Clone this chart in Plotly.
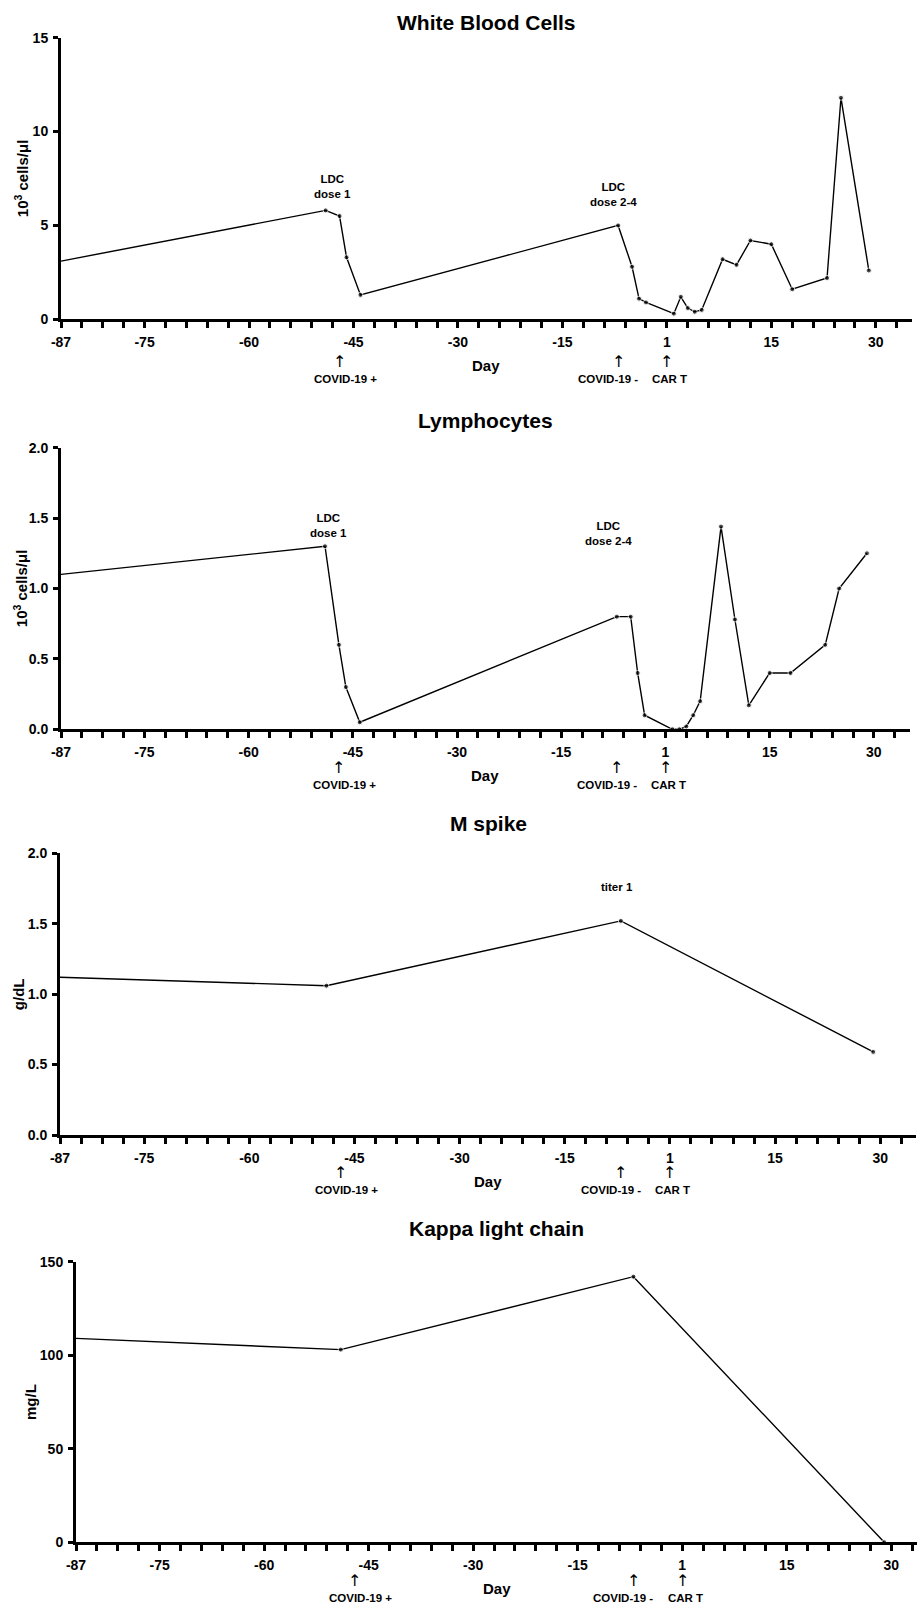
import plotly.graph_objects as go

W, H = 917, 1607

# ---------------- data ----------------
wbc_days = [-87, -49, -47, -46, -44, -7, -5, -4, -3, 1, 2, 3, 4, 5, 8, 10, 12, 15, 18, 23, 25, 29]
wbc_vals = [3.1, 5.8, 5.5, 3.3, 1.3, 5.0, 2.8, 1.1, 0.9, 0.3, 1.2, 0.6, 0.4, 0.5, 3.2, 2.9, 4.2, 4.0, 1.6, 2.2, 11.8, 2.6]

lym_days = [-87, -49, -47, -46, -44, -7, -5, -4, -3, 1, 2, 3, 4, 5, 8, 10, 12, 15, 18, 23, 25, 29]
lym_vals = [1.10, 1.30, 0.60, 0.30, 0.05, 0.80, 0.80, 0.40, 0.10, 0.0, 0.0, 0.02, 0.10, 0.20, 1.44, 0.78, 0.17, 0.40, 0.40, 0.60, 1.00, 1.25]

mspike_days = [-87, -49, -7, 29]
mspike_vals = [1.12, 1.06, 1.52, 0.59]

kappa_days = [-87, -49, -7, 29]
kappa_vals = [109, 103, 142, 0]

x_tickvals = [-87, -75, -60, -45, -30, -15, 0, 15, 30]
x_ticktext = ["-87", "-75", "-60", "-45", "-30", "-15", "1", "15", "30"]

event_names = ["COVID-19 +", "COVID-19 -", "CAR T"]
event_days = [-47, -7, 0]
event_label_shift = [6, -10, 3]

FONT = "Liberation Sans, Arial, sans-serif"

panels = [
    dict(title="White Blood Cells", ytitle="10<sup>3</sup> cells/μl",
         days=wbc_days, vals=wbc_vals,
         xpx=(61, 912), ypx=(37.7, 319.3), xrange=[-87, 35.2], yrange=[0, 15],
         ytickvals=[0, 5, 10, 15], yticktext=["0", "5", "10", "15"],
         title_y=23, ytitle_x=21.7, day_y=365, arrow_y=361, label_y=379,
         notes=[("LDC<br>dose 1", -48, 7.1), ("LDC<br>dose 2-4", -7.7, 6.67)]),
    dict(title="Lymphocytes", ytitle="10<sup>3</sup> cells/μl",
         days=lym_days, vals=lym_vals,
         xpx=(61, 910), ypx=(447.7, 729.3), xrange=[-87, 35.2], yrange=[0, 2.0],
         ytickvals=[0, 0.5, 1.0, 1.5, 2.0], yticktext=["0.0", "0.5", "1.0", "1.5", "2.0"],
         title_y=420, ytitle_x=20.7, day_y=775, arrow_y=767.5, label_y=785,
         notes=[("LDC<br>dose 1", -48.5, 1.45), ("LDC<br>dose 2-4", -8.2, 1.39)]),
    dict(title="M spike", ytitle="g/dL",
         days=mspike_days, vals=mspike_vals,
         xpx=(60, 916), ypx=(853.3, 1135), xrange=[-87, 35.1], yrange=[0, 2.0],
         ytickvals=[0, 0.5, 1.0, 1.5, 2.0], yticktext=["0.0", "0.5", "1.0", "1.5", "2.0"],
         title_y=823, ytitle_x=18, day_y=1181, arrow_y=1172.5, label_y=1190,
         notes=[("titer 1", -7.5, 1.76)]),
    dict(title="Kappa light chain", ytitle="mg/L",
         days=kappa_days, vals=kappa_vals,
         xpx=(76, 917), ypx=(1261.7, 1542.3), xrange=[-87, 33.7], yrange=[0, 150],
         ytickvals=[0, 50, 100, 150], yticktext=["0", "50", "100", "150"],
         title_y=1228, ytitle_x=30, day_y=1588, arrow_y=1580.5, label_y=1598,
         notes=[("titer 1", -7.8, 157.5)]),
]

fig = go.Figure()
annotations = []
layout_axes = {}

def px_x(p):
    return p / W

def px_y(p):
    return 1 - p / H

for i, p in enumerate(panels, start=1):
    sfx = "" if i == 1 else str(i)
    xa, ya = "x" + sfx, "y" + sfx
    sizes = [0] + [5] * (len(p["days"]) - 1)
    fig.add_trace(go.Scatter(
        x=p["days"], y=p["vals"], mode="lines+markers",
        line=dict(color="black", width=1.4),
        marker=dict(color="black", size=sizes),
        xaxis=xa, yaxis=ya, showlegend=False, cliponaxis=False,
    ))
    xd = [max(0, px_x(p["xpx"][0])), min(1, px_x(p["xpx"][1]))]
    yd = [px_y(p["ypx"][1]), px_y(p["ypx"][0])]
    layout_axes["xaxis" + sfx] = dict(
        domain=xd, range=p["xrange"], anchor=ya, automargin=False,
        showline=True, linecolor="black", linewidth=3,
        showgrid=False, zeroline=False,
        tickmode="array", tickvals=x_tickvals, ticktext=x_ticktext,
        ticks="outside", ticklen=6, tickwidth=3, tickcolor="black",
        ticklabelstandoff=2,
        tickfont=dict(family=FONT, size=14, color="black", weight="bold"),
        minor=dict(dtick=3, tick0=0, ticks="outside", ticklen=6, tickwidth=3,
                   tickcolor="black", showgrid=False),
        fixedrange=True,
    )
    layout_axes["yaxis" + sfx] = dict(
        domain=yd, range=p["yrange"], anchor=xa, automargin=False,
        showline=True, linecolor="black", linewidth=3,
        showgrid=False, zeroline=False,
        tickmode="array", tickvals=p["ytickvals"], ticktext=p["yticktext"],
        ticks="outside", ticklen=5, tickwidth=3, tickcolor="black",
        ticklabelstandoff=2,
        tickfont=dict(family=FONT, size=14, color="black", weight="bold"),
        fixedrange=True,
    )
    xc = (px_x(p["xpx"][0]) + px_x(p["xpx"][1])) / 2
    annotations.append(dict(text="<b>%s</b>" % p["title"], xref="paper", yref="paper",
                            x=xc, y=px_y(p["title_y"]), showarrow=False,
                            xanchor="center", yanchor="middle",
                            font=dict(family=FONT, size=21, color="black")))
    annotations.append(dict(text="<b>%s</b>" % p["ytitle"], xref="paper", yref="paper",
                            x=px_x(p["ytitle_x"]), y=px_y((p["ypx"][0] + p["ypx"][1]) / 2),
                            textangle=-90, showarrow=False,
                            xanchor="center", yanchor="middle",
                            font=dict(family=FONT, size=15, color="black")))
    annotations.append(dict(text="<b>Day</b>", xref="paper", yref="paper",
                            x=xc, y=px_y(p["day_y"]), showarrow=False,
                            xanchor="center", yanchor="middle",
                            font=dict(family=FONT, size=15, color="black")))
    for name, d, sh in zip(event_names, event_days, event_label_shift):
        annotations.append(dict(text="↑", xref=xa, yref="paper",
                                x=d, y=px_y(p["arrow_y"]), showarrow=False,
                                xanchor="center", yanchor="middle",
                                font=dict(family="DejaVu Sans", size=16, color="black")))
        annotations.append(dict(text="<b>%s</b>" % name, xref=xa, yref="paper",
                                x=d, y=px_y(p["label_y"]), xshift=sh, showarrow=False,
                                xanchor="center", yanchor="middle",
                                font=dict(family=FONT, size=11.5, color="black")))
    for txt, nx, ny in p["notes"]:
        annotations.append(dict(text="<b>%s</b>" % txt, xref=xa, yref=ya,
                                x=nx, y=ny, showarrow=False,
                                xanchor="center", yanchor="middle",
                                font=dict(family=FONT, size=11.5, color="black")))

fig.update_layout(
    width=W, height=H,
    margin=dict(l=0, r=0, t=0, b=0, pad=0, autoexpand=False),
    paper_bgcolor="white", plot_bgcolor="white",
    annotations=annotations,
    showlegend=False,
    **layout_axes,
)

fig.write_html(
    "out.html",
    config={"displayModeBar": False},
    post_script="document.body.style.margin='0';document.body.style.overflow='hidden';",
)
